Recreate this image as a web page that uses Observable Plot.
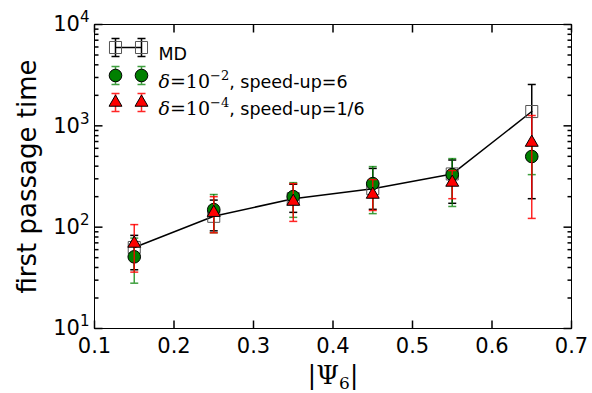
<!DOCTYPE html>
<html><head><meta charset="utf-8">
<script src="https://cdn.jsdelivr.net/npm/d3@7"></script>
<script src="https://cdn.jsdelivr.net/npm/@observablehq/plot@0.6"></script>
<style>html,body{margin:0;padding:0;background:#fff;} svg{display:block}</style>
</head><body><div id="chart"></div>
<script>
// ---- data ----
const psi = [0.15, 0.25, 0.35, 0.45, 0.55, 0.65];
const mdTime = [63, 128, 191, 240, 335, 1384];
const mdLow  = [38, 92, 140, 150, 172, 191];
const mdHigh = [83, 185, 265, 380, 460, 2559];
const d2Time = [51, 149, 200, 269, 330, 498];
const d2Low  = [28, 88, 125, 136, 160, 330];
const d2High = [78, 210, 275, 396, 475, 670];
const d4Time = [69, 139, 179, 210, 276, 684];
const d4Low  = [36, 88, 114, 146, 191, 122];
const d4High = [106, 200, 269, 295, 362, 1264];
const seriesNames = ["MD", "δ=10^−2, speed-up=6", "δ=10^−4, speed-up=1/6"];
const xTicks = [0.1, 0.2, 0.3, 0.4, 0.5, 0.6, 0.7];
const yTicks = [10, 100, 1000, 10000];
const yTickLabels = ["10^1", "10^2", "10^3", "10^4"];
const yMinorTicks = [10, 100, 1000].flatMap(d => [2,3,4,5,6,7,8,9].map(k => k * d));
const xLabel = "|Ψ6|";
const yLabel = "first passage time";

const rows = (t, lo, hi) => psi.map((x, i) => ({x, t: t[i], lo: lo[i], hi: hi[i]}));
const md = rows(mdTime, mdLow, mdHigh);
const d2 = rows(d2Time, d2Low, d2High);
const d4 = rows(d4Time, d4Low, d4High);

const GREEN = "#008000", RED = "#ff0000";
const sym = f => ({draw: f});
const tickUp = sym(c => {c.moveTo(0,0); c.lineTo(0,-8);});
const tickDown = sym(c => {c.moveTo(0,0); c.lineTo(0,8);});
const tickR = sym(c => {c.moveTo(0,0); c.lineTo(8,0);});
const tickL = sym(c => {c.moveTo(0,0); c.lineTo(-8,0);});
const mtickR = sym(c => {c.moveTo(0,0); c.lineTo(4,0);});
const mtickL = sym(c => {c.moveTo(0,0); c.lineTo(-4,0);});
const cap = sym(c => {c.moveTo(-4,0); c.lineTo(4,0);});
const errGlyph = sym(c => {c.moveTo(0,-9); c.lineTo(0,9); c.moveTo(-4,-9); c.lineTo(4,-9); c.moveTo(-4,9); c.lineTo(4,9);});
const legLine = sym(c => {c.moveTo(-13,0); c.lineTo(13,0);});

function errbars(data, color, op) {
  return [
    Plot.ruleX(data, {x: "x", y1: "lo", y2: "hi", stroke: color, strokeOpacity: op, strokeWidth: 1.5}),
    Plot.dot(data, {x: "x", y: "lo", symbol: cap, fill: "none", stroke: color, strokeOpacity: op, strokeWidth: 1.5}),
    Plot.dot(data, {x: "x", y: "hi", symbol: cap, fill: "none", stroke: color, strokeOpacity: op, strokeWidth: 1.5})
  ];
}

const markerStyles = [
  {symbol: "square", r: 6.8, fill: "none", stroke: "#555", strokeWidth: 1, err: "black", errOp: 1},
  {symbol: "circle", r: 6.3, fill: GREEN, stroke: "black", strokeWidth: 1, err: GREEN, errOp: 0.75},
  {symbol: "triangle", r: 4.8, fill: RED, stroke: "black", strokeWidth: 1, err: RED, errOp: 0.85}
];
const legendDy = [23, 51, 78];

const legendMarks = seriesNames.flatMap((name, i) => {
  const s = markerStyles[i];
  const dy = legendDy[i];
  const m = [];
  if (i === 0) m.push(Plot.dot([0], {frameAnchor: "top-left", dx: 34, dy, symbol: legLine, fill: "none", stroke: "black", strokeWidth: 1.5}));
  for (const dx of [21, 47]) {
    m.push(Plot.dot([0], {frameAnchor: "top-left", dx, dy, symbol: errGlyph, fill: "none", stroke: s.err, strokeOpacity: s.errOp, strokeWidth: 1.5}));
    m.push(Plot.dot([0], {frameAnchor: "top-left", dx, dy, symbol: s.symbol, r: s.r, fill: s.fill, stroke: s.stroke, strokeWidth: s.strokeWidth}));
  }
  m.push(Plot.text([name], {frameAnchor: "top-left", dx: 64, dy, text: d => d, textAnchor: "start", fontSize: 17.5, fill: "black"}));
  return m;
});

const chart = Plot.plot({
  width: 592, height: 393,
  marginLeft: 94, marginRight: 21, marginTop: 24, marginBottom: 65,
  style: {fontFamily: "DejaVu Sans", background: "white", color: "black"},
  x: {domain: [0.1, 0.7], axis: null},
  y: {type: "log", domain: [10, 10000], axis: null},
  marks: [
    // MD
    ...errbars(md, "black", 1),
    Plot.line(md, {x: "x", y: "t", stroke: "black", strokeWidth: 1.5}),
    Plot.dot(md, {x: "x", y: "t", symbol: "square", r: markerStyles[0].r, fill: "none", stroke: "#555", strokeWidth: 1}),
    // delta = 1e-2
    ...errbars(d2, GREEN, 0.75),
    Plot.dot(d2, {x: "x", y: "t", symbol: "circle", r: markerStyles[1].r, fill: GREEN, stroke: "black", strokeWidth: 1}),
    // delta = 1e-4
    ...errbars(d4, RED, 0.85),
    Plot.dot(d4, {x: "x", y: "t", symbol: "triangle", r: markerStyles[2].r, fill: RED, stroke: "black", strokeWidth: 1}),
    // legend
    ...legendMarks,
    // ticks (inside)
    Plot.dot(xTicks, {x: d => d, frameAnchor: "bottom", symbol: tickUp, fill: "none", stroke: "black"}),
    Plot.dot(xTicks, {x: d => d, frameAnchor: "top", symbol: tickDown, fill: "none", stroke: "black"}),
    Plot.dot(yTicks, {y: d => d, frameAnchor: "left", symbol: tickR, fill: "none", stroke: "black"}),
    Plot.dot(yTicks, {y: d => d, frameAnchor: "right", symbol: tickL, fill: "none", stroke: "black"}),
    Plot.dot(yMinorTicks, {y: d => d, frameAnchor: "left", symbol: mtickR, fill: "none", stroke: "black"}),
    Plot.dot(yMinorTicks, {y: d => d, frameAnchor: "right", symbol: mtickL, fill: "none", stroke: "black"}),
    Plot.frame({stroke: "black", strokeWidth: 1}),
    // tick labels
    Plot.text(xTicks, {x: d => d, frameAnchor: "bottom", dy: 24, lineAnchor: "bottom", textAnchor: "middle", text: d => d.toFixed(1), fontSize: 21, fill: "black"}),
    Plot.text(yTicks, {y: d => d, frameAnchor: "left", dx: -5, textAnchor: "end", text: (d, i) => yTickLabels[i], fontSize: 21, fill: "black"}),
    // axis labels
    Plot.text([xLabel], {frameAnchor: "bottom", dy: 55, lineAnchor: "bottom", textAnchor: "middle", text: d => d, fontSize: 26, fill: "black"}),
    Plot.text([yLabel], {frameAnchor: "left", dx: -67, rotate: -90, textAnchor: "middle", text: d => d, fontSize: 26, fill: "black"})
  ]
});
document.getElementById("chart").appendChild(chart);

// rich text: superscripts / subscripts / math fonts
const NS = "http://www.w3.org/2000/svg";
function setRich(el, parts) {
  el.textContent = "";
  for (const p of parts) {
    const ts = document.createElementNS(NS, "tspan");
    ts.textContent = p.t;
    if (p.dy) ts.setAttribute("dy", p.dy);
    if (p.size) ts.setAttribute("font-size", p.size);
    if (p.family) ts.setAttribute("font-family", p.family);
    if (p.italic) ts.setAttribute("font-style", "italic");
    el.appendChild(ts);
  }
}
const SERIF = "DejaVu Serif";
d3.select(chart).selectAll("text").each(function() {
  const s = this.textContent;
  let m;
  if ((m = s.match(/^10\^(.+)$/))) {
    setRich(this, [{t: "10"}, {t: m[1], size: 15, dy: -9}]);
  } else if ((m = s.match(/^δ=10\^(\S+?), (.*)$/))) {
    setRich(this, [
      {t: "δ", family: SERIF, italic: true, size: 19},
      {t: "=10", family: SERIF, size: 19},
      {t: m[1], family: SERIF, size: 13, dy: -8},
      {t: ", " + m[2], dy: 8, size: 17.5}
    ]);
  } else if (s === xLabel) {
    setRich(this, [
      {t: "|Ψ", family: SERIF},
      {t: "6", family: SERIF, size: 17, dy: 5},
      {t: "|", family: SERIF, dy: -5}
    ]);
  }
});
</script>
</body></html>
